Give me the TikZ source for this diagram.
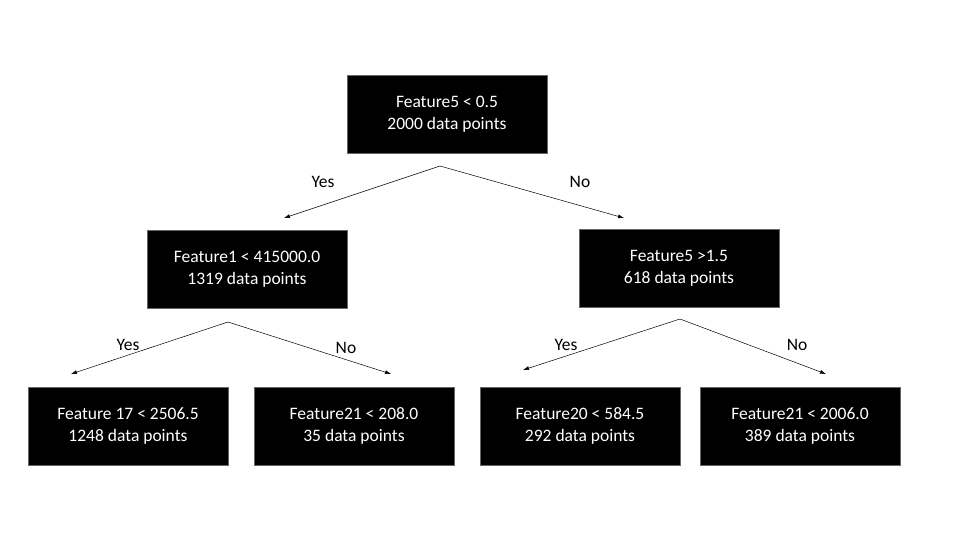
\documentclass[tikz,border=0pt]{standalone}
\usepackage{fontspec}
\setmainfont{Carlito}
\usetikzlibrary{arrows.meta, positioning}

\begin{document}
\begin{tikzpicture}[
                x = 1pt, y = -1pt, % pixel grid, origin top left
                > = {Latex[length=6pt, width=4pt]}, % arrow head style
                line width=0.5pt, % line style
                font=\fontsize{17.5}{21.5}\selectfont
                ]
                \tikzstyle{split}=[
                    draw = black!60,
                    fill = black,
                    text = white,
                    align = center,
                    minimum width = 200pt,
                    minimum height = 78pt,
                    inner sep = 0pt,
                ]
                \useasboundingbox (0,0) rectangle (960,540);

                \node[split] (root) at (447,114) {Feature5 < 0.5\\2000 data points};
                \node[split] (f1) at (247,269) {Feature1 < 415000.0\\1319 data points};
                \node[split] (f5) at (679,268.5) {Feature5 >1.5\\618 data points};
                \node[split] (f17) at (128,426) {Feature 17 < 2506.5\\1248 data points};
                \node[split] (f21a) at (354,426) {Feature21 < 208.0\\35 data points};
                \node[split] (f20) at (580,426) {Feature20 < 584.5\\292 data points};
                \node[split] (f21b) at (800,426) {Feature21 < 2006.0\\389 data points};

                % fork points below each box and arrow ends above each child
                \coordinate (rootfork) at (440,166);
                \coordinate (f1in) at (284,218);
                \coordinate (f5in) at (624,218);
                \coordinate (f1fork) at (228,322);
                \coordinate (f17in) at (71,374);
                \coordinate (f21ain) at (391,374);
                \coordinate (f5fork) at (680,319);
                \coordinate (f20in) at (523,370);
                \coordinate (f21bin) at (826,374);

                \path[->] (rootfork) edge (f1in);
                \path[->] (rootfork) edge (f5in);
                \path[->] (f1fork) edge (f17in);
                \path[->] (f1fork) edge (f21ain);
                \path[->] (f5fork) edge (f20in);
                \path[->] (f5fork) edge (f21bin);

                \node (yes0) at (323,182) {Yes};
                \node (no0) at (580,182) {No};
                \node (yes1) at (128,345) {Yes};
                \node (no1) at (346,348) {No};
                \node (yes2) at (566,345) {Yes};
                \node (no2) at (797,345) {No};
            \end{tikzpicture}
\end{document}
